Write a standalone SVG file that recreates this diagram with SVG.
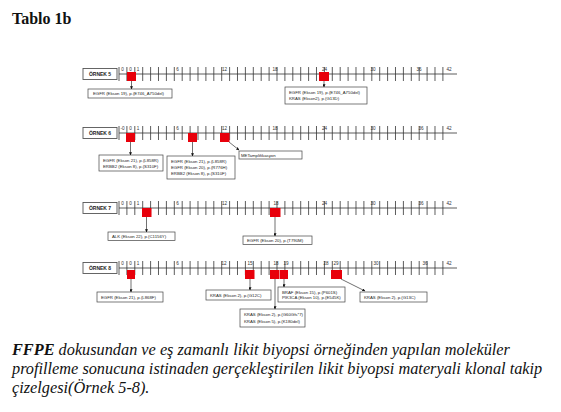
<svg xmlns="http://www.w3.org/2000/svg" xmlns:xlink="http://www.w3.org/1999/xlink" width="561" height="412" viewBox="0 0 561 412">
<style>
.ax{stroke:#333;stroke-width:0.8;fill:none}
.tk{stroke:#333;stroke-width:0.8;fill:none}
.tl{font-family:"Liberation Sans",Arial,sans-serif;font-size:4.6px;fill:#333;text-anchor:middle}
.lb{fill:#fff;stroke:#555;stroke-width:0.9}
.lt{font-family:"Liberation Sans",Arial,sans-serif;font-size:5px;font-weight:bold;fill:#222;text-anchor:middle}
.red{fill:#e8000b}
.bx{fill:#fff;stroke:#444;stroke-width:0.7}
.bt{font-family:"Liberation Sans",Arial,sans-serif;font-size:4.3px;fill:#222}
.cn{stroke:#111;stroke-width:0.6;fill:none;marker-end:url(#ah)}
.cap{font-family:"Liberation Serif","Times New Roman",serif;font-style:italic;font-size:16.3px;fill:#111}
</style>
<defs>
<marker id="ah" viewBox="0 0 6 6" refX="5.5" refY="3" markerWidth="5" markerHeight="5" orient="auto"><path d="M0,0 L6,3 L0,6 Z" fill="#111"/></marker>
<g id="axis">
<line class="ax" x1="119" y1="0" x2="457" y2="0"/>
<path class="tk" d="M119 -7v14m7.9 -14v14m7.9 -14v14m7.9 -14v14m7.9 -14v14m7.9 -14v14m7.9 -14v14m7.9 -14v14m7.9 -14v14m7.9 -14v14m7.9 -14v14m7.9 -14v14m7.9 -14v14m7.9 -14v14m7.9 -14v14m7.9 -14v14m7.9 -14v14m7.9 -14v14m7.9 -14v14m7.9 -14v14m7.9 -14v14m7.9 -14v14m7.9 -14v14m7.9 -14v14m7.9 -14v14m7.9 -14v14m7.9 -14v14m7.9 -14v14m7.9 -14v14m7.9 -14v14m7.9 -14v14m7.9 -14v14m7.9 -14v14m7.9 -14v14m7.9 -14v14m7.9 -14v14m7.9 -14v14m7.9 -14v14m7.9 -14v14m7.9 -14v14m7.9 -14v14m7.9 -14v14"/>
</g>
</defs>
<rect width="561" height="412" fill="#fff"/>
<text x="12" y="24" font-family="Liberation Serif,'Times New Roman',serif" font-weight="bold" font-size="16" fill="#111">Tablo 1b</text>

<!-- ÖRNEK 5 -->
<g id="ornek5">
<use xlink:href="#axis" transform="translate(0,74)"/>
<g class="tl"><text x="122.5" y="71">0</text><text x="130.5" y="71">0</text><text x="138" y="71">1</text><text x="177.5" y="71">6</text><text x="224.5" y="71">12</text><text x="275" y="71">18</text><text x="324.5" y="71">24</text><text x="373" y="71">30</text><text x="419" y="71">36</text><text x="449" y="71">42</text></g>
<rect class="lb" x="83" y="68.5" width="34" height="11"/><text class="lt" x="100" y="75.8">ÖRNEK 5</text>
<rect class="red" x="127" y="72" width="9" height="9"/>
<rect class="red" x="319" y="72" width="10" height="9"/>
</g>
<g id="box5a"><rect class="bx" x="88" y="89" width="84" height="9"/><text class="bt" x="93" y="95">EGFR (Ekson 19), p.(E746_A750del)</text></g>
<g id="box5b"><rect class="bx" x="285" y="87" width="82" height="17"/><text class="bt" x="289" y="94">EGFR (Ekson 19), p.(E746_A750del)</text><text class="bt" x="289" y="100">KRAS (Ekson2), p.(G13D)</text></g>

<!-- ÖRNEK 6 -->
<g id="ornek6">
<use xlink:href="#axis" transform="translate(0,133)"/>
<g class="tl"><text x="122.5" y="130">-0</text><text x="130.5" y="130">0</text><text x="138" y="130">1</text><text x="177.5" y="130">6</text><text x="224.5" y="130">12</text><text x="275" y="130">18</text><text x="324.5" y="130">24</text><text x="373" y="130">30</text><text x="421" y="130">36</text><text x="449" y="130">42</text></g>
<rect class="lb" x="83" y="127.5" width="34" height="11"/><text class="lt" x="100" y="134.8">ÖRNEK 6</text>
<rect class="red" x="126" y="133" width="9" height="9"/>
<rect class="red" x="188" y="133" width="9" height="9"/>
<rect class="red" x="220" y="133" width="9.5" height="9"/>
</g>
<g id="box6a"><rect class="bx" x="99" y="155" width="64" height="16"/><text class="bt" x="103" y="162">EGFR (Ekson 21), p.(L858R)</text><text class="bt" x="103" y="168">ERBB2 (Ekson 8), p.(S310F)</text></g>
<g id="box6b"><rect class="bx" x="167" y="156" width="68" height="23"/><text class="bt" x="171" y="163">EGFR (Ekson 21), p.(L858R)</text><text class="bt" x="171" y="169">EGFR (Ekson 20), p.(R776H)</text><text class="bt" x="171" y="175">ERBB2 (Ekson 8), p.(S310F)</text></g>
<g id="box6c"><rect class="bx" x="239" y="151" width="63" height="8"/><text class="bt" x="241" y="156.5">METamplifikasyon</text></g>

<!-- ÖRNEK 7 -->
<g id="ornek7">
<use xlink:href="#axis" transform="translate(0,208)"/>
<g class="tl"><text x="122.5" y="205">0</text><text x="130.5" y="205">0</text><text x="138" y="205">1</text><text x="177.5" y="205">6</text><text x="224.5" y="205">12</text><text x="276" y="205">18</text><text x="324.5" y="205">24</text><text x="373" y="205">30</text><text x="421" y="205">36</text><text x="449" y="205">42</text></g>
<rect class="lb" x="83" y="202.5" width="34" height="11"/><text class="lt" x="100" y="209.8">ÖRNEK 7</text>
<rect class="red" x="142" y="208" width="9.5" height="9"/>
<rect class="red" x="270" y="208" width="10.5" height="9"/>
</g>
<g id="box7a"><rect class="bx" x="108" y="232" width="67" height="8.5"/><text class="bt" x="112" y="237.8">ALK (Ekson 22), p.(C1156Y)</text></g>
<g id="box7b"><rect class="bx" x="243" y="236" width="69" height="8.5"/><text class="bt" x="247" y="241.8">EGFR (Ekson 20), p.(T790M)</text></g>

<!-- ÖRNEK 8 -->
<g id="ornek8">
<use xlink:href="#axis" transform="translate(0,268)"/>
<g class="tl"><text x="122.5" y="265">0</text><text x="130.5" y="265">0</text><text x="138" y="265">1</text><text x="177.5" y="265">6</text><text x="224" y="265">12</text><text x="250" y="265">15</text><text x="276" y="265">18</text><text x="286" y="265">19</text><text x="326" y="265">28</text><text x="336" y="265">29</text><text x="376" y="265">30</text><text x="425" y="265">36</text><text x="449" y="265">42</text></g>
<rect class="lb" x="83" y="262.5" width="34" height="11"/><text class="lt" x="100" y="269.8">ÖRNEK 8</text>
<rect class="red" x="127" y="270" width="8" height="9"/>
<rect class="red" x="245" y="270" width="9.5" height="9"/>
<rect class="red" x="270" y="270" width="9" height="9"/>
<rect class="red" x="279.5" y="270" width="8.5" height="9"/>
<rect class="red" x="331" y="270" width="11" height="9"/>
</g>
<g id="box8a"><rect class="bx" x="97" y="292" width="66" height="10"/><text class="bt" x="101" y="298.5">EGFR (Ekson 21), p.(L868F)</text></g>
<g id="box8b"><rect class="bx" x="206" y="290" width="65" height="10"/><text class="bt" x="210" y="296.5">KRAS (Ekson 2), p.(G12C)</text></g>
<g id="box8c"><rect class="bx" x="278" y="287" width="67" height="15"/><text class="bt" x="282" y="293.5">BRAF (Ekson 15), p.(P601S)</text><text class="bt" x="282" y="299">PIK3CA (Ekson 10), p.(E545K)</text></g>
<g id="box8d"><rect class="bx" x="360" y="292" width="67" height="10"/><text class="bt" x="364" y="298.5">KRAS (Ekson 2), p.(G13C)</text></g>
<g id="box8e"><rect class="bx" x="240" y="309" width="65" height="18"/><text class="bt" x="244" y="316">KRAS (Ekson 2), p.(G60Gfs*7)</text><text class="bt" x="244" y="322.5">KRAS (Ekson 5), p.(K180del)</text></g>

<g id="connectors">
<line class="cn" x1="131.5" y1="81" x2="131.5" y2="89"/>
<line class="cn" x1="324" y1="81" x2="324" y2="87"/>
<line class="cn" x1="130.5" y1="142" x2="130.5" y2="155"/>
<line class="cn" x1="192.5" y1="142" x2="192.5" y2="156"/>
<line class="cn" x1="229" y1="142" x2="239" y2="150"/>
<line class="cn" x1="146.5" y1="217" x2="146.5" y2="232"/>
<line class="cn" x1="275" y1="217" x2="275" y2="236"/>
<line class="cn" x1="131" y1="279" x2="131" y2="292"/>
<line class="cn" x1="250" y1="279" x2="250" y2="290"/>
<line class="cn" x1="284" y1="279" x2="284" y2="287"/>
<line class="cn" x1="341" y1="279" x2="365" y2="291"/>
<line class="cn" x1="275" y1="279" x2="275" y2="309"/>
</g>

<text class="cap" x="12" y="355"><tspan font-weight="bold">FFPE</tspan> dokusundan ve eş zamanlı likit biyopsi örneğinden yapılan moleküler</text>
<text class="cap" x="12" y="374">profilleme sonucuna istinaden gerçekleştirilen likit biyopsi materyali klonal takip</text>
<text class="cap" x="12" y="393">çizelgesi(Örnek 5-8).</text>
</svg>
